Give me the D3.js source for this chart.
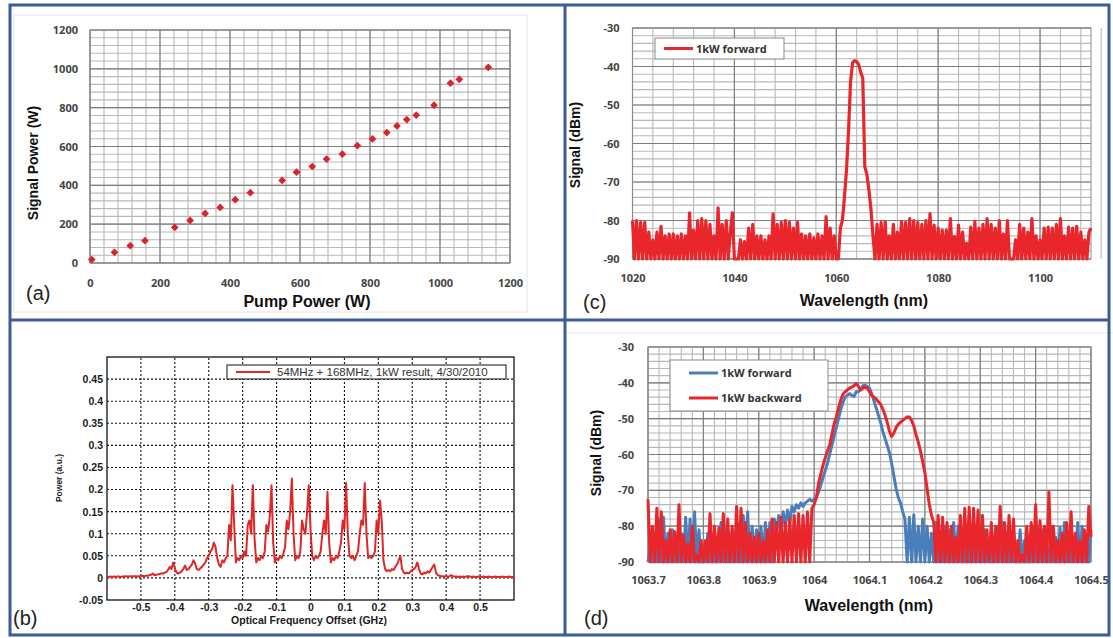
<!DOCTYPE html>
<html>
<head>
<meta charset="utf-8">
<script src="https://cdnjs.cloudflare.com/ajax/libs/d3/7.8.5/d3.min.js"></script>
<style>
body { margin:0; background:#fff; }
svg { display:block; font-family:"Liberation Sans", Arial, sans-serif; }
</style>
</head>
<body>
<svg id="fig" width="1113" height="638"></svg>
<script>
// (a) signal vs pump power
var pumpPower = [5,70,115,157,242,286,329,372,415,458,549,590,635,676,721,764,807,848,877,905,932,983,1030,1055,1138];
var signalPower = [18,55,89,115,183,219,255,286,326,362,425,468,497,535,561,605,639,672,706,739,761,813,926,946,1008];
var aTicks = [0,200,400,600,800,1000,1200];

// (b) comb spectrum, sampled every 0.005 GHz from -0.6
var bStart = -0.6, bStep = 0.005;
var bPower = [
  0.002,0.002,0.003,0.002,0.003,0.002,0.003,0.003,0.002,0.003,0.003,0.004,0.003,0.003,0.004,0.003,0.004,0.004,0.003,0.004,0.004,
  0.005,0.004,0.005,0.005,0.006,0.007,0.01,0.006,0.007,0.008,0.009,0.01,0.01,0.012,0.013,0.018,0.025,0.02,0.035,0.022,
  0.012,0.01,0.012,0.015,0.02,0.028,0.018,0.02,0.025,0.03,0.04,0.032,0.02,0.018,0.022,0.025,0.03,0.035,0.045,0.05,
  0.06,0.065,0.08,0.07,0.045,0.03,0.025,0.04,0.035,0.045,0.05,0.12,0.085,0.21,0.12,0.035,0.045,0.04,0.05,0.045,
  0.06,0.05,0.12,0.13,0.1,0.21,0.09,0.035,0.045,0.04,0.05,0.045,0.06,0.12,0.105,0.14,0.21,0.08,0.035,0.045,
  0.04,0.05,0.045,0.055,0.07,0.13,0.11,0.15,0.225,0.1,0.04,0.05,0.045,0.06,0.13,0.11,0.1,0.15,0.21,0.11,
  0.05,0.04,0.05,0.045,0.05,0.06,0.1,0.13,0.1,0.195,0.08,0.035,0.045,0.04,0.05,0.045,0.06,0.08,0.13,0.11,
  0.215,0.1,0.05,0.045,0.05,0.04,0.05,0.06,0.1,0.13,0.12,0.215,0.1,0.045,0.05,0.045,0.05,0.06,0.13,0.1,
  0.175,0.13,0.04,0.02,0.015,0.018,0.015,0.02,0.018,0.025,0.03,0.04,0.05,0.02,0.012,0.01,0.012,0.01,0.015,0.018,
  0.02,0.025,0.035,0.02,0.01,0.008,0.012,0.01,0.015,0.012,0.018,0.025,0.03,0.012,0.006,0.005,0.004,0.004,0.003,0.004,
  0.003,0.004,0.006,0.004,0.003,0.003,0.002,0.003,0.002,0.003,0.002,0.003,0.004,0.003,0.002,0.003,0.002,0.002,0.003,0.002,
  0.002,0.003,0.002,0.002,0.003,0.002,0.002,0.002,0.003,0.002,0.002,0.002,0.003,0.002,0.002,0.002,0.003,0.002,0.002,0.002
];
var bXTicks = [-0.5,-0.4,-0.3,-0.2,-0.1,0,0.1,0.2,0.3,0.4,0.5];
var bYTicks = [-0.05,0,0.05,0.1,0.15,0.2,0.25,0.3,0.35,0.4,0.45];
var bLegend = "54MHz + 168MHz, 1kW result, 4/30/2010";

// (c) 1kW forward spectrum, sampled every 0.4 nm from 1020
var cStart = 1020, cStep = 0.4;
var cForward = [
  -80,-90,-80,-90,-80.5,-90,-80.5,-90,-83,-90,
  -85,-90,-83,-90,-81.5,-90,-84,-90,-83.5,-90,
  -83.5,-90,-84,-90,-83.5,-90,-84,-90,-78,-90,
  -82.5,-90,-80,-90,-79.5,-90,-80,-90,-81,-90,
  -84,-90,-76.7,-90,-81,-90,-80,-90,-83,-78,
  -90,-90,-90,-85,-90,-85.5,-90,-82,-90,-81,
  -90,-84,-90,-84,-90,-85,-90,-84,-90,-78.3,
  -90,-81,-90,-80.5,-90,-80,-90,-80.5,-90,-82,
  -90,-80.5,-90,-83.5,-90,-84,-90,-83.5,-90,-84.5,
  -90,-83.5,-90,-84,-90,-79,-90,-82,-90,-84,
  -90,-90,-82,-80,-74,-67,-57,-44,-39,-38.5,
  -38.7,-39.5,-41.5,-43,-66,-68,-72,-77,-84,-90,
  -81,-90,-80.5,-90,-80.3,-90,-84,-90,-81,-90,
  -83,-90,-80.3,-90,-80.5,-90,-79.5,-90,-80,-90,
  -80.5,-90,-81,-90,-80,-90,-78.2,-90,-81.2,-90,
  -82,-90,-82.5,-90,-82.5,-90,-79.5,-90,-84.2,-90,
  -81.2,-90,-83,-90,-85.9,-90,-81.7,-90,-80.3,-90,
  -82,-90,-81,-90,-79.5,-90,-81,-90,-82,-90,
  -80,-90,-83.5,-90,-80,-90,-90,-90,-85,-90,
  -81,-90,-82,-90,-83,-90,-79.5,-90,-84,-90,
  -85,-90,-82,-90,-81.7,-90,-82,-90,-81,-90,
  -79.5,-90,-84,-90,-81.7,-90,-82,-90,-81.5,-90,
  -83,-90,-85,-90,-83,-82
];
var cXTicks = [1020,1040,1060,1080,1100];
var dbTicks = [-90,-80,-70,-60,-50,-40,-30];

// (d) forward / backward spectra, sampled every 0.004 nm from 1063.7
var dStart = 1063.7, dStep = 0.004;
var dForward = [
  -90,-86,-90,-82,-90,-78,-90,-77.5,-90,-82,
  -90,-81,-90,-83,-90,-82,-90,-77.5,-90,-78,
  -90,-76,-90,-81,-90,-86,-90,-82,-90,-84,
  -90,-83,-90,-79,-90,-85,-90,-83,-90,-82,
  -90,-79.5,-90,-77,-90,-76,-90,-80,-90,-81,
  -90,-80,-90,-79,-90,-79,-90,-78,-82,-77,
  -81,-76,-80,-75.5,-79,-74.5,
  -76,-74,-75,-73.5,-74.5,-73.5,-73,-72.5,-73,-72.5,
  -72,-70.5,-68.5,-66.5,-64.5,-62.5,-60,-57.5,-55,-52.5,
  -50,-47.5,-45.5,-44,-43.5,-43,-43.5,-43.8,-42.5,-42.5,
  -41.8,-40.8,-40.7,-41,-41.5,-43,-45,-47,-49,-51,
  -53.5,-55.5,-57.5,-59.5,-62.5,-66,-69.5,-72,-73.5,-76,
  -78,
  -90,-77.5,-90,-76.8,-90,-80,-90,-78,-90,-80,
  -90,-82,-90,-79,-90,-84,-90,-80,-90,-81,
  -90,-79,-90,-80,-90,-83,-90,-85,-90,-82,
  -90,-80,-90,-84,-90,-81,-90,-86,-90,-83,
  -90,-80,-90,-79,-90,-84,-90,-82,-90,-86,
  -90,-81,-90,-84,-90,-83,-90,-80,-90,-84,
  -90,-81,-90,-86,-90,-80,-90,-83,-90,-80.5,
  -90,-79,-90,-82,-90,-85,-90,-79,-90,-80,
  -90,-84,-90,-81
];
var dBackward = [
  -72.5,-90,-80,-90,-75,-90,-76,-90,-84,-90,
  -81,-90,-81.5,-90,-74,-90,-82.5,-90,-85,-90,
  -80,-90,-88,-90,-84,-90,-84,-90,-76.5,-90,
  -80,-90,-80.5,-90,-76.5,-90,-78,-90,-80,-90,
  -74.5,-90,-75,-90,-79,-90,-82,-90,-83,-90,
  -82,-90,-84,-90,-81,-90,-78,-90,-79,-90,
  -77.5,-90,-79,-90,-78,-90,-77,-90,-76.5,-90,
  -77,-90,-76,-90,-75,
  -74,-72,-68,-65.5,-63,-61,-59,-57.4,-54.5,-51.5,
  -49.5,-47,-44.8,-43.2,-42.5,-42,-41.5,-41.2,-40.8,-40.2,
  -41,-42,-41.5,-41.2,-41.5,-42.5,-43.5,-44,-44.5,-45.3,
  -46,-47.3,-49,-51,-53.5,-55,-54,-52.5,-51.5,-51,
  -50.5,-50,-49.5,-49.5,-50.5,-52,-54.5,-56.5,-59,-62,
  -65,-69.5,-74,-77,
  -79,
  -90,-77,-90,-77.5,-90,-79,-90,-80,-90,-83,
  -90,-77,-90,-75,-90,-74.7,-90,-75,-90,-75.5,
  -90,-77,-90,-81,-90,-79,-90,-80,-90,-74.5,
  -90,-79,-90,-77,-90,-78,-90,-84,-90,-88,
  -90,-80,-90,-79,-90,-74,-90,-78.5,-90,-80,
  -90,-70.5,-90,-80,-90,-84,-90,-82,-90,-79,
  -90,-76,-90,-82,-90,-84,-90,-81,-90,-74.5,
  -83
];
var dXTicks = [1063.7,1063.8,1063.9,1064,1064.1,1064.2,1064.3,1064.4,1064.5];

var RED = "#e8262b", BLUE = "#4a7ebb", FRAME = "#3b5b99";

var svg = d3.select("#fig");

function grid(g, x, y, xs, ys, color) {
  var x0 = x.range()[0], x1 = x.range()[1], y0 = y.range()[0], y1 = y.range()[1];
  g.append("g").selectAll("line").data(xs).enter().append("line")
    .attr("x1", function(d) { return x(d); }).attr("x2", function(d) { return x(d); })
    .attr("y1", y0).attr("y2", y1)
    .attr("stroke", color).attr("stroke-width", 1.1);
  g.append("g").selectAll("line").data(ys).enter().append("line")
    .attr("y1", function(d) { return y(d); }).attr("y2", function(d) { return y(d); })
    .attr("x1", x0).attr("x2", x1)
    .attr("stroke", color).attr("stroke-width", 1.1);
}

function steps(a, b, s) {
  var out = [];
  var n = Math.round((b - a) / s);
  for (var i = 0; i <= n; i++) out.push(a + i * s);
  return out;
}

function excelPanel(o) {
  var g = svg.append("g");
  var x = d3.scaleLinear().domain(o.xDomain).range([o.left, o.right]);
  var y = d3.scaleLinear().domain(o.yDomain).range([o.bottom, o.top]);
  grid(g, x, y, steps(o.xDomain[0], o.xDomain[1], o.xMinor), steps(o.yDomain[0], o.yDomain[1], o.yMinor), "#b8b8b8");
  grid(g, x, y, steps(o.xDomain[0], o.xDomain[1], o.xMajor), steps(o.yDomain[0], o.yDomain[1], o.yMajor), "#7c7c7c");
  g.append("rect").attr("x", o.left).attr("y", o.top)
    .attr("width", o.right - o.left).attr("height", o.bottom - o.top)
    .attr("fill", "none").attr("stroke", "#8a8a8a");

  var fmt = function(d) { return String(d); };
  var yAx = g.append("g").attr("transform", "translate(" + o.left + ",0)")
    .call(d3.axisLeft(y).tickValues(o.yTicks).tickSize(0).tickPadding(o.yPad).tickFormat(fmt));
  var xAx = g.append("g").attr("transform", "translate(0," + o.bottom + ")")
    .call(d3.axisBottom(x).tickValues(o.xTicks).tickSize(0).tickPadding(o.xPad).tickFormat(fmt));
  [yAx, xAx].forEach(function(a) {
    a.select(".domain").remove();
    a.selectAll("text").attr("font-size", 11).attr("font-weight", "bold").attr("fill", "#444")
      .attr("font-family", "'Open Sans', sans-serif");
  });

  g.append("text").text(o.xTitle)
    .attr("x", o.xTitleX).attr("y", o.xTitleY).attr("text-anchor", "middle")
    .attr("font-size", 16).attr("font-weight", "bold").attr("fill", "#111");
  g.append("text").text(o.yTitle)
    .attr("transform", "translate(" + o.yTitleX + "," + o.yTitleY + ") rotate(-90)")
    .attr("text-anchor", "middle")
    .attr("font-size", 14).attr("font-weight", "bold").attr("fill", "#111");
  g.append("text").text(o.tag).attr("x", o.tagX).attr("y", o.tagY)
    .attr("font-size", 20).attr("fill", "#222");
  return {g: g, x: x, y: y};
}

function legend(g, x0, y0, w, h, items) {
  g.append("rect").attr("x", x0).attr("y", y0).attr("width", w).attr("height", h)
    .attr("fill", "#fff").attr("stroke", "#8a8a8a");
  items.forEach(function(it) {
    g.append("line").attr("x1", x0 + it.lx).attr("x2", x0 + it.lx + 29)
      .attr("y1", y0 + it.dy).attr("y2", y0 + it.dy)
      .attr("stroke", it.color).attr("stroke-width", 3);
    g.append("text").text(it.label).attr("x", x0 + it.lx + 32).attr("y", y0 + it.dy + 4)
      .attr("font-size", 11).attr("font-weight", "bold").attr("fill", "#333")
      .attr("font-family", "'Open Sans', sans-serif");
  });
}

// faint chart-area borders
svg.append("rect").attr("x", 14).attr("y", 15).attr("width", 513).attr("height", 297)
  .attr("fill", "none").attr("stroke", "#e4e4e4");
svg.append("line").attr("x1", 566).attr("x2", 1113).attr("y1", 333).attr("y2", 333)
  .attr("stroke", "#e4e4e4");

// ---- (a)
var pa = excelPanel({
  xDomain: [0, 1200], yDomain: [0, 1200], left: 90, right: 510, top: 30, bottom: 263,
  xMinor: 40, yMinor: 40, xMajor: 200, yMajor: 200, xTicks: aTicks, yTicks: aTicks,
  xPad: 16, yPad: 12,
  xTitle: "Pump Power (W)", xTitleX: 307, xTitleY: 307,
  yTitle: "Signal Power (W)", yTitleX: 38, yTitleY: 163,
  tag: "(a)", tagX: 26, tagY: 300
});
pa.g.selectAll("path.pt")
  .data(pumpPower)
  .enter()
  .append("path")
    .attr("class", "pt")
    .attr("d", d3.symbol().type(d3.symbolSquare).size(30))
    .attr("transform", function(d, i) {
      return "translate(" + pa.x(d) + "," + pa.y(signalPower[i]) + ") rotate(45)";
    })
    .attr("fill", "#d9232b");

// ---- (c)
var pc = excelPanel({
  xDomain: [1020, 1110], yDomain: [-90, -30], left: 632.5, right: 1091, top: 28, bottom: 259,
  xMinor: 4, yMinor: 2, xMajor: 20, yMajor: 10, xTicks: cXTicks, yTicks: dbTicks,
  xPad: 15, yPad: 13,
  xTitle: "Wavelength (nm)", xTitleX: 864, xTitleY: 306,
  yTitle: "Signal (dBm)", yTitleX: 580, yTitleY: 145,
  tag: "(c)", tagX: 583, tagY: 309
});
var cLine = d3.line()
  .x(function(d, i) { return pc.x(cStart + i * cStep); })
  .y(function(d) { return pc.y(d); });
pc.g.append("path").datum(cForward).attr("d", cLine)
  .attr("fill", "none").attr("stroke", RED).attr("stroke-width", 3.2).attr("stroke-linejoin", "round");
legend(pc.g, 655, 38, 129, 21, [{lx: 9, dy: 10.5, color: RED, label: "1kW forward"}]);

// ---- (d)
var pd = excelPanel({
  xDomain: [1063.7, 1064.5], yDomain: [-90, -30], left: 648, right: 1091, top: 347, bottom: 562,
  xMinor: 0.02, yMinor: 2, xMajor: 0.1, yMajor: 10, xTicks: dXTicks, yTicks: dbTicks,
  xPad: 14, yPad: 14,
  xTitle: "Wavelength (nm)", xTitleX: 869, xTitleY: 611,
  yTitle: "Signal (dBm)", yTitleX: 601, yTitleY: 453,
  tag: "(d)", tagX: 584, tagY: 625
});
var dLine = d3.line()
  .x(function(d, i) { return pd.x(dStart + i * dStep); })
  .y(function(d) { return pd.y(d); });
pd.g.append("path").datum(dForward).attr("d", dLine)
  .attr("fill", "none").attr("stroke", BLUE).attr("stroke-width", 3).attr("stroke-linejoin", "round");
pd.g.append("path").datum(dBackward).attr("d", dLine)
  .attr("fill", "none").attr("stroke", RED).attr("stroke-width", 3).attr("stroke-linejoin", "round");
legend(pd.g, 670, 360, 158, 51, [
  {lx: 19, dy: 13, color: BLUE, label: "1kW forward"},
  {lx: 19, dy: 38, color: RED, label: "1kW backward"}
]);

// ---- (b) matlab style
var gb = svg.append("g");
var bx = d3.scaleLinear().domain([-0.6, 0.6]).range([107, 514]);
var by = d3.scaleLinear().domain([-0.05, 0.5]).range([600, 357]);
gb.append("g").selectAll("line").data(bXTicks).enter().append("line")
  .attr("x1", function(d) { return bx(d); }).attr("x2", function(d) { return bx(d); })
  .attr("y1", by(-0.05)).attr("y2", by(0.5))
  .attr("stroke", "#111").attr("stroke-width", 1.1).attr("stroke-dasharray", "2,2");
gb.append("g").selectAll("line").data(bYTicks.slice(1)).enter().append("line")
  .attr("y1", function(d) { return by(d); }).attr("y2", function(d) { return by(d); })
  .attr("x1", bx(-0.6)).attr("x2", bx(0.6))
  .attr("stroke", "#111").attr("stroke-width", 1.1).attr("stroke-dasharray", "2,2");
gb.append("rect").attr("x", 107).attr("y", 357).attr("width", 407).attr("height", 243)
  .attr("fill", "none").attr("stroke", "#111").attr("stroke-width", 1.3);
var bfmt = function(d) { return String(d); };
var byAx = gb.append("g").attr("transform", "translate(107,0)")
  .call(d3.axisLeft(by).tickValues(bYTicks).tickSize(0).tickPadding(4).tickFormat(bfmt));
var bxAx = gb.append("g").attr("transform", "translate(0,600)")
  .call(d3.axisBottom(bx).tickValues(bXTicks).tickSize(0).tickPadding(4).tickFormat(bfmt));
[byAx, bxAx].forEach(function(a) {
  a.select(".domain").remove();
  a.selectAll("text").attr("font-size", 10.5).attr("font-weight", "bold").attr("fill", "#1a1a1a");
});
gb.append("text").text("Optical Frequency Offset (GHz)")
  .attr("x", 309).attr("y", 624).attr("text-anchor", "middle")
  .attr("font-size", 10.5).attr("font-weight", "bold").attr("fill", "#1a1a1a");
gb.append("text").text("Power (a.u.)")
  .attr("transform", "translate(62,478) rotate(-90)").attr("text-anchor", "middle")
  .attr("font-size", 8.5).attr("font-weight", "bold").attr("fill", "#1a1a1a");
gb.append("text").text("(b)").attr("x", 13).attr("y", 625)
  .attr("font-size", 20).attr("fill", "#222");
var bLine = d3.line()
  .x(function(d, i) { return bx(bStart + i * bStep); })
  .y(function(d) { return by(d); });
gb.append("path").datum(bPower).attr("d", bLine)
  .attr("fill", "none").attr("stroke", "#e02626").attr("stroke-width", 2).attr("stroke-linejoin", "round");
gb.append("rect").attr("x", 227).attr("y", 365).attr("width", 279).attr("height", 14)
  .attr("fill", "#fff").attr("stroke", "#111");
gb.append("line").attr("x1", 236).attr("x2", 270).attr("y1", 372).attr("y2", 372)
  .attr("stroke", "#e02626").attr("stroke-width", 2);
gb.append("text").text(bLegend).attr("x", 277).attr("y", 376)
  .attr("font-size", 11.5).attr("fill", "#333");

// panel frame
svg.append("rect").attr("x", 10).attr("y", 5).attr("width", 1099).attr("height", 630)
  .attr("fill", "none").attr("stroke", FRAME).attr("stroke-width", 3);
svg.append("line").attr("x1", 565).attr("x2", 565).attr("y1", 5).attr("y2", 635)
  .attr("stroke", FRAME).attr("stroke-width", 3);
svg.append("line").attr("x1", 10).attr("x2", 1109).attr("y1", 320).attr("y2", 320)
  .attr("stroke", FRAME).attr("stroke-width", 3);
</script>
</body>
</html>
